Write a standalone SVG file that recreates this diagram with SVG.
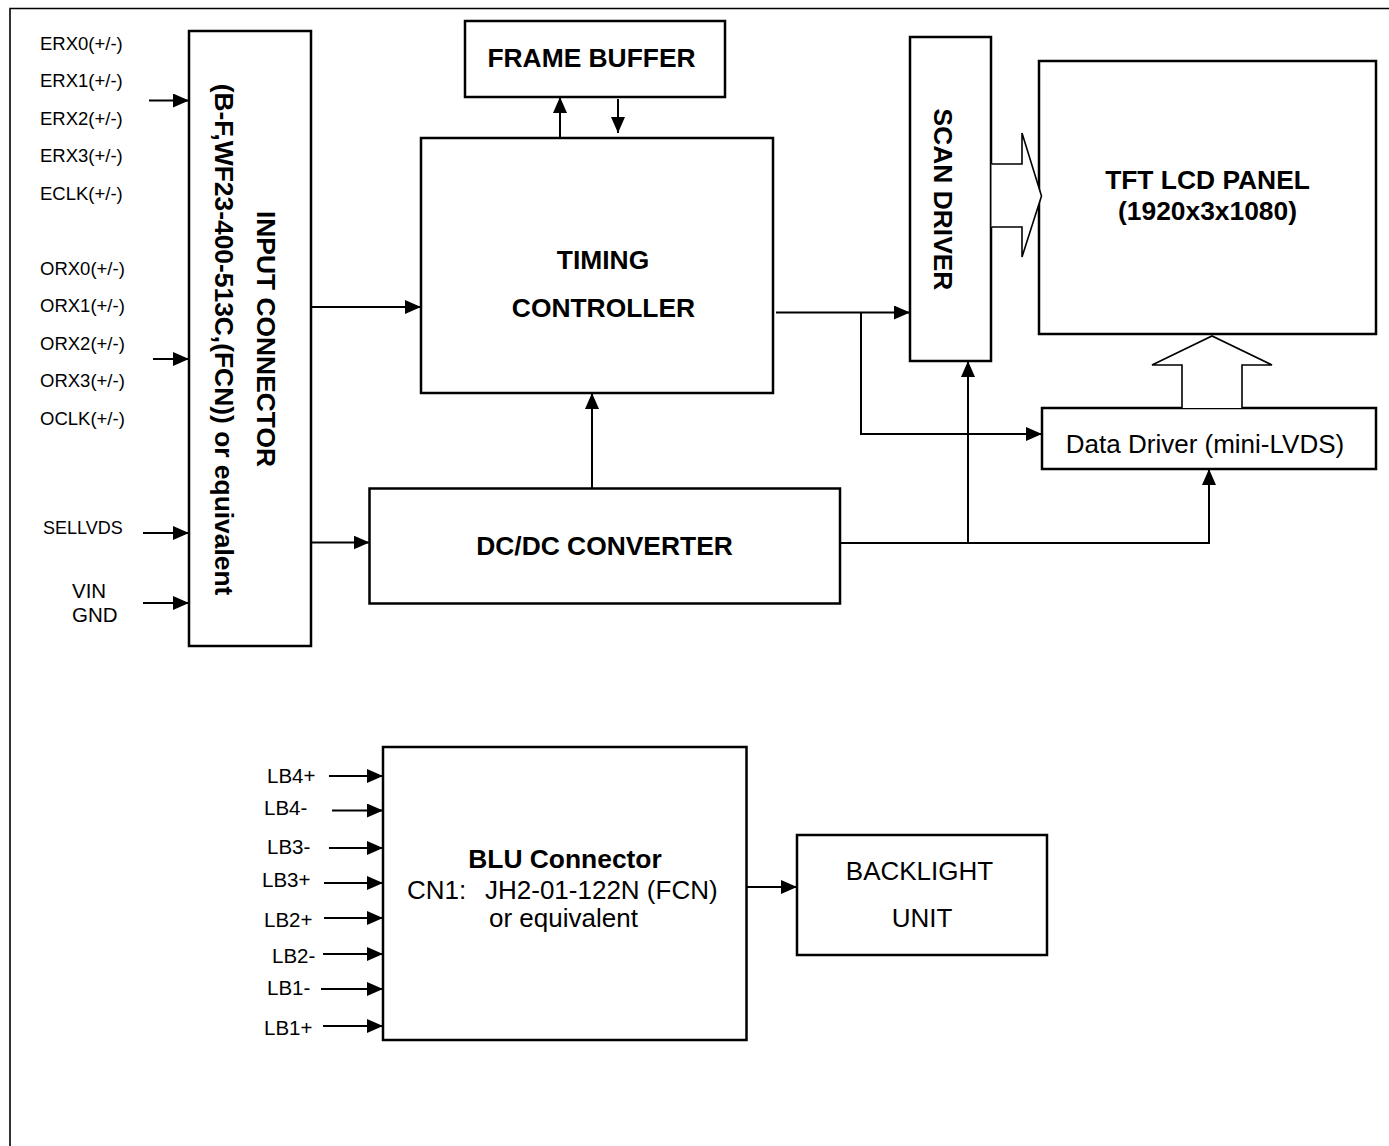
<svg xmlns="http://www.w3.org/2000/svg" width="1389" height="1146" viewBox="0 0 1389 1146">
<style>
.box{fill:#fff;stroke:#000;stroke-width:2.5}
.ln{fill:none;stroke:#000;stroke-width:2}
.hol{fill:#fff;stroke:#000;stroke-width:1.6;stroke-linejoin:miter}
.t{font-family:"Liberation Sans",Arial,sans-serif;fill:#000}
.b{font-weight:bold;font-size:26.4px}
.r{font-size:26px}
.s{font-size:18.5px}
.m{font-size:20.5px}
.c{text-anchor:middle}
</style>
<defs>
<marker id="ah" markerUnits="userSpaceOnUse" markerWidth="17" markerHeight="15" refX="16" refY="7" orient="auto">
<path d="M0,0 L16,7 L0,14 z" fill="#000"/>
</marker>
</defs>
<rect width="1389" height="1146" fill="#fff"/>
<path d="M10,1146 V8.5 H1389" fill="none" stroke="#000" stroke-width="1.6"/>

<g id="labels-left" class="t s">
<text x="40" y="49.5">ERX0(+/-)</text>
<text x="40" y="87">ERX1(+/-)</text>
<text x="40" y="124.5">ERX2(+/-)</text>
<text x="40" y="161.5">ERX3(+/-)</text>
<text x="40" y="199.5">ECLK(+/-)</text>
<text x="40" y="274.5">ORX0(+/-)</text>
<text x="40" y="311.5">ORX1(+/-)</text>
<text x="40" y="349.5">ORX2(+/-)</text>
<text x="40" y="386.5">ORX3(+/-)</text>
<text x="40" y="424.5">OCLK(+/-)</text>
<text x="43" y="534" style="font-size:18px">SELLVDS</text>
<text x="72" y="597.5" style="font-size:20.5px">VIN</text>
<text x="72" y="621.5" style="font-size:20.5px">GND</text>
</g>

<g id="input-connector">
<rect class="box" x="189" y="31" width="122" height="615"/>
<text class="t b c" transform="translate(257,339) rotate(90)">INPUT CONNECTOR</text>
<text class="t b c" transform="translate(215,339.5) rotate(90)">(B-F,WF23-400-513C,(FCN)) or equivalent</text>
</g>

<g id="frame-buffer">
<rect class="box" x="465" y="21" width="260" height="76"/>
<text class="t b c" x="591.5" y="67">FRAME BUFFER</text>
</g>

<g id="timing-controller">
<rect class="box" x="421" y="138" width="352" height="255"/>
<text class="t b c" x="603" y="269">TIMING</text>
<text class="t b c" x="603.5" y="317">CONTROLLER</text>
</g>

<g id="dcdc-converter">
<rect class="box" x="369.5" y="488.5" width="470.5" height="115"/>
<text class="t b c" x="604.5" y="555">DC/DC CONVERTER</text>
</g>

<g id="scan-driver">
<rect class="box" x="910" y="37" width="81" height="324"/>
<text class="t b c" transform="translate(933.5,199.5) rotate(90)">SCAN DRIVER</text>
</g>

<g id="tft-panel">
<rect class="box" x="1039" y="61" width="337" height="273"/>
<text class="t b c" x="1207.5" y="189">TFT LCD PANEL</text>
<text class="t b c" x="1207.5" y="220">(1920x3x1080)</text>
</g>

<g id="data-driver">
<rect class="box" x="1042" y="408" width="334" height="61"/>
<text class="t r c" x="1205" y="453">Data Driver (mini-LVDS)</text>
</g>

<g id="blu-connector">
<rect class="box" x="383" y="747" width="363.5" height="293"/>
<text class="t b c" x="565" y="868">BLU Connector</text>
<text class="t r" x="407" y="899">CN1:</text>
<text class="t r" x="485" y="899">JH2-01-122N (FCN)</text>
<text class="t r" x="489" y="927">or equivalent</text>
</g>

<g id="backlight-unit">
<rect class="box" x="797" y="835" width="250" height="120"/>
<text class="t r c" x="919.5" y="880">BACKLIGHT</text>
<text class="t r c" x="922" y="927">UNIT</text>
</g>

<g id="labels-blu" class="t m">
<text x="267" y="783">LB4+</text>
<text x="264" y="815">LB4-</text>
<text x="267" y="854">LB3-</text>
<text x="262" y="887">LB3+</text>
<text x="264" y="927">LB2+</text>
<text x="272" y="963">LB2-</text>
<text x="267" y="995">LB1-</text>
<text x="264" y="1035">LB1+</text>
</g>

<g id="connectors">
<path class="ln" d="M149,100.5 H189" marker-end="url(#ah)"/>
<path class="ln" d="M153,359 H189" marker-end="url(#ah)"/>
<path class="ln" d="M143,533 H189" marker-end="url(#ah)"/>
<path class="ln" d="M143,603 H189" marker-end="url(#ah)"/>
<path class="ln" d="M311,307 H421" marker-end="url(#ah)"/>
<path class="ln" d="M311,542.5 H369.5" marker-end="url(#ah)"/>
<path class="ln" d="M560,138 V97" marker-end="url(#ah)"/>
<path class="ln" d="M618,99 V133" marker-end="url(#ah)"/>
<path class="ln" d="M592,488.5 V393" marker-end="url(#ah)"/>
<path class="ln" d="M776,312.5 H910" marker-end="url(#ah)"/>
<path class="ln" d="M861,312.5 V434 H1042" marker-end="url(#ah)"/>
<path class="ln" d="M840,543 H1209 V469" marker-end="url(#ah)"/>
<path class="ln" d="M968,543 V361" marker-end="url(#ah)"/>
<polyline class="hol" points="991.5,164 1022,164 1022,133 1041.5,196 1022,257 1022,227 991.5,227"/>
<polyline class="hol" points="1182,408 1182,365 1152,365 1212,336 1272,365 1242,365 1242,408"/>
<path class="ln" d="M746.5,887 H797" marker-end="url(#ah)"/>
<path class="ln" d="M329,776 H383" marker-end="url(#ah)"/>
<path class="ln" d="M332,810.5 H383" marker-end="url(#ah)"/>
<path class="ln" d="M329,848 H383" marker-end="url(#ah)"/>
<path class="ln" d="M324,883 H383" marker-end="url(#ah)"/>
<path class="ln" d="M324,918 H383" marker-end="url(#ah)"/>
<path class="ln" d="M323,954 H383" marker-end="url(#ah)"/>
<path class="ln" d="M321,989 H383" marker-end="url(#ah)"/>
<path class="ln" d="M323,1026 H383" marker-end="url(#ah)"/>
</g>
</svg>
